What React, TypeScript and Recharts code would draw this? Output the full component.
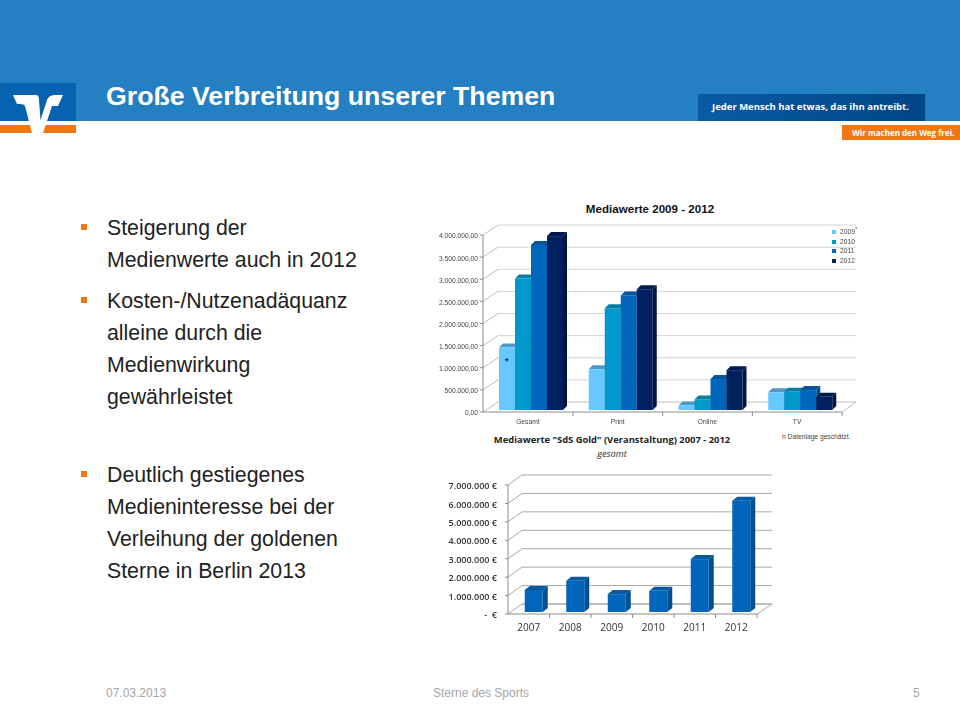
import { BarChart, Bar, XAxis, YAxis, CartesianGrid, Legend } from 'recharts'

const topCategories = ['Gesamt', 'Print', 'Online', 'TV']
const values2009 = [1410000, 920000, 100000, 400000]
const values2010 = [2970000, 2300000, 240000, 410000]
const values2011 = [3730000, 2590000, 700000, 450000]
const values2012 = [3930000, 2730000, 900000, 300000]
const topTicks = [0, 500000, 1000000, 1500000, 2000000, 2500000, 3000000, 3500000, 4000000]

const goldYears = ['2007', '2008', '2009', '2010', '2011', '2012']
const goldValues = [1200000, 1700000, 970000, 1150000, 2870000, 6040000]
const goldTicks = [0, 1000000, 2000000, 3000000, 4000000, 5000000, 6000000, 7000000]

const bulletGroups = [
  { top: 212, lines: ['Steigerung der', 'Medienwerte auch in 2012'] },
  { top: 285, lines: ['Kosten-/Nutzenadäquanz', 'alleine durch die', 'Medienwirkung', 'gewährleistet'] },
  { top: 459, lines: ['Deutlich gestiegenes', 'Medieninteresse bei der', 'Verleihung der goldenen', 'Sterne in Berlin 2013'] },
]

const topData = topCategories.map((name, i) => ({
  name,
  y2009: values2009[i],
  y2010: values2010[i],
  y2011: values2011[i],
  y2012: values2012[i],
}))
const goldData = goldYears.map((name, i) => ({ name, value: goldValues[i] }))

const BLUE = '#2480c2'
const ORANGE = '#f07814'
const ARIAL = '"Liberation Sans", Arial, sans-serif'
const CALIBRI = '"Open Sans", "Noto Sans", sans-serif'

const de = (v: number) => String(v).replace(/\B(?=(\d{3})+$)/g, '.')

// fake the 3D look of the Excel charts: front face comes from the scale, top and side are offset
function bar3d(dx: number, dy: number, dw: number, dh: number, top: string, side: string) {
  return (props: any) => {
    const { x, y, width, height, fill } = props
    const l = x + dx
    const r = l + width
    const t = y + dy
    const b = t + height
    return (
      <g>
        <polygon points={`${l},${t} ${l + dw},${t - dh} ${r + dw},${t - dh} ${r},${t}`} fill={top} />
        <polygon points={`${r},${t} ${r + dw},${t - dh} ${r + dw},${b - dh} ${r},${b}`} fill={side} />
        <rect x={l} y={t} width={width} height={height} fill={fill} />
      </g>
    )
  }
}

// grid line that runs along the back wall, with the slanted bit at the left
function wallLine(dx: number, dy: number, extra: number, color: string, slant: string) {
  return (props: any) => {
    const { x1, y1, x2, y, height } = props
    const isFloor = Math.abs(y1 - (y + height)) < 1
    return (
      <g key={`wall-${y1}`} fill="none">
        <line x1={x1} y1={y1} x2={x1 + dx} y2={y1 - dy} stroke={slant} />
        <line x1={x1 + dx} y1={y1 - dy} x2={x2 + extra} y2={y1 - dy} stroke={color} strokeWidth={isFloor ? 1.5 : 1} />
        {isFloor && <line x1={x2} y1={y1} x2={x2 + extra} y2={y1 - dy} stroke={slant} />}
      </g>
    )
  }
}

function bandTick(halfBand: number, fontSize: number, font: string, color: string, dy: number, mark: string) {
  return (props: any) => {
    const { x, y, payload } = props
    return (
      <g>
        <line x1={x + halfBand} y1={y - 8} x2={x + halfBand} y2={y - 4} stroke={mark} />
        <text x={x} y={y + dy} textAnchor="middle" fontSize={fontSize} fontFamily={font} fill={color}>
          {payload.value}
        </text>
      </g>
    )
  }
}

function Logo() {
  return (
    <svg width={80} height={60} style={{ position: 'absolute', left: 0, top: 78 }} viewBox="0 78 80 60">
      <rect x={0} y={83} width={76} height={38} fill="#0763b0" />
      <rect x={0} y={121} width={76} height={4} fill="#ffffff" />
      <rect x={0} y={125} width={76} height={8} fill={ORANGE} />
      <path
        d="M13 95 L36 95 Q39 95 39 100 L40.5 120 L47 100 Q49 95 55 95 L63 95 L58 106 L52 106 L43 133 L32 133 L25 106 Q24 104 20 104 L17 104 Z"
        fill="#ffffff"
      />
    </svg>
  )
}

function TextAt({ style, children }: any) {
  return <div style={{ position: 'absolute', whiteSpace: 'nowrap', ...style }}>{children}</div>
}

export default function App() {
  return (
    <div style={{ position: 'absolute', left: 0, top: 0, width: 960, height: 720, background: '#fff', overflow: 'hidden' }}>
      <div style={{ position: 'absolute', left: 0, top: 0, width: 960, height: 121, background: BLUE }} />
      <Logo />
      <TextAt style={{ left: 106, top: 81, fontFamily: ARIAL, fontWeight: 700, fontSize: 26.7, lineHeight: '30px', color: '#fff' }}>
        Große Verbreitung unserer Themen
      </TextAt>
      <div style={{ position: 'absolute', left: 698, top: 94, width: 227, height: 27, background: 'linear-gradient(90deg, #0a5ba6, #004586)' }} />
      <TextAt style={{ left: 712, top: 99, fontFamily: CALIBRI, fontWeight: 700, fontSize: 9.5, lineHeight: '15px', color: '#fff' }}>
        Jeder Mensch hat etwas, das ihn antreibt.
      </TextAt>
      <div style={{ position: 'absolute', left: 842, top: 125, width: 118, height: 15, background: ORANGE }} />
      <TextAt style={{ left: 852, top: 125, fontFamily: CALIBRI, fontWeight: 700, fontSize: 8, lineHeight: '15px', color: '#fff' }}>
        Wir machen den Weg frei.
      </TextAt>

      {bulletGroups.map(g => (
        <div key={g.top}>
          <div style={{ position: 'absolute', left: 81, top: g.top + 12, width: 5.5, height: 6, background: ORANGE }} />
          {g.lines.map((line, i) => (
            <TextAt key={line} style={{ left: 107, top: g.top + i * 32, fontFamily: ARIAL, fontSize: 21.3, lineHeight: '32px', color: '#222' }}>
              {line}
            </TextAt>
          ))}
        </div>
      ))}

      <TextAt style={{ left: 550, width: 200, top: 202, textAlign: 'center', fontFamily: ARIAL, fontWeight: 700, fontSize: 11.6, lineHeight: '14px', color: '#111' }}>
        Mediawerte 2009 - 2012
      </TextAt>
      <div style={{ position: 'absolute', left: 425, top: 215, filter: 'blur(0.3px)' }}>
        <BarChart
          width={440}
          height={225}
          data={topData}
          margin={{ top: 20, right: 23, bottom: 10, left: 0 }}
          barCategoryGap={12}
          barGap={0}
        >
          <CartesianGrid vertical={false} horizontal={wallLine(15, 10, 14, '#d4d4d4', '#bcbcbc')} />
          <XAxis
            dataKey="name"
            height={18}
            axisLine={{ stroke: '#8c8c8c' }}
            tickLine={false}
            interval={0}
            tick={bandTick(45, 6.7, ARIAL, '#444', 4, '#8c8c8c')}
          />
          <YAxis
            width={58}
            domain={[0, 4000000]}
            ticks={topTicks}
            interval={0}
            tickFormatter={v => `${de(v)},00`}
            tickSize={3}
            tick={{ fontSize: 6.7, fontFamily: ARIAL, fill: '#444', dy: 1 }}
            axisLine={{ stroke: '#8c8c8c' }}
            tickLine={{ stroke: '#8c8c8c' }}
          />
          {/* align center + middle keeps the legend from eating plot width */}
          <Legend
            layout="vertical"
            align="center"
            verticalAlign="middle"
            iconType="square"
            iconSize={4}
            wrapperStyle={{ left: 407, top: 12, width: 40, fontSize: 6.7, fontFamily: ARIAL, lineHeight: '9.6px' }}
            formatter={(v: string) => (
              <span style={{ color: '#444' }}>
                {v}
                {v === '2009' && <sup style={{ fontSize: 6, lineHeight: 0 }}>*</sup>}
              </span>
            )}
          />
          <Bar dataKey="y2009" name="2009" fill="#66c8ff" isAnimationActive={false} shape={bar3d(4, -2, 4, 4, '#4f97c5', '#3d86b5')} />
          <Bar dataKey="y2010" name="2010" fill="#0099cc" isAnimationActive={false} shape={bar3d(4, -2, 4, 4, '#0a7da3', '#046f94')} />
          <Bar dataKey="y2011" name="2011" fill="#0066bb" isAnimationActive={false} shape={bar3d(4, -2, 4, 4, '#07559a', '#054a88')} />
          <Bar dataKey="y2012" name="2012" fill="#002060" isAnimationActive={false} shape={bar3d(4, -2, 4, 4, '#001a4e', '#001540')} />
        </BarChart>
      </div>
      <TextAt style={{ left: 505, top: 355, fontFamily: ARIAL, fontWeight: 700, fontSize: 9, lineHeight: '12px', color: '#0a2a55' }}>*</TextAt>
      <TextAt style={{ left: 782, top: 432, fontFamily: ARIAL, fontSize: 6.7, lineHeight: '10px', color: '#444' }}>n Datenlage geschätzt.</TextAt>

      <TextAt style={{ left: 462, width: 300, top: 433, textAlign: 'center', fontFamily: CALIBRI, fontWeight: 700, fontSize: 9.4, lineHeight: '14px', color: '#222' }}>
        Mediawerte "SdS Gold" (Veranstaltung) 2007 - 2012
      </TextAt>
      <TextAt style={{ left: 462, width: 300, top: 447, textAlign: 'center', fontFamily: CALIBRI, fontStyle: 'italic', fontSize: 9.2, lineHeight: '14px', color: '#333' }}>
        gesamt
      </TextAt>
      <div style={{ position: 'absolute', left: 445, top: 465, filter: 'blur(0.3px)' }}>
        <BarChart
          width={335}
          height={170}
          data={goldData}
          margin={{ top: 20, right: 23, bottom: 0, left: 0 }}
          barCategoryGap={11.75}
        >
          <CartesianGrid vertical={false} horizontal={wallLine(14, 10, 15, '#a8a8a8', '#a8a8a8')} />
          <XAxis
            dataKey="name"
            height={21}
            axisLine={{ stroke: '#8c8c8c' }}
            tickLine={false}
            interval={0}
            tick={bandTick(20.75, 10, CALIBRI, '#333', 9, '#8c8c8c')}
          />
          <YAxis
            width={63}
            domain={[0, 7000000]}
            ticks={goldTicks}
            interval={0}
            tickFormatter={v => (v === 0 ? '-\u00A0\u00A0€' : `${de(v)}\u00A0€`)}
            tickSize={3}
            tickMargin={8}
            tick={{ fontSize: 9, fontWeight: 600, fontFamily: CALIBRI, fill: '#333', dy: 1 }}
            axisLine={{ stroke: '#8c8c8c' }}
            tickLine={{ stroke: '#8c8c8c' }}
          />
          <Bar dataKey="value" fill="#0066bb" isAnimationActive={false} shape={bar3d(5, -2, 5, 4, '#0a5aa0', '#00508f')} />
        </BarChart>
      </div>

      <TextAt style={{ left: 106, top: 686, fontFamily: ARIAL, fontSize: 12, lineHeight: '15px', color: '#a6a6a6' }}>07.03.2013</TextAt>
      <TextAt style={{ left: 431, width: 100, top: 686, textAlign: 'center', fontFamily: ARIAL, fontSize: 12, lineHeight: '15px', color: '#a6a6a6' }}>Sterne des Sports</TextAt>
      <TextAt style={{ left: 913, top: 686, fontFamily: ARIAL, fontSize: 12, lineHeight: '15px', color: '#a6a6a6' }}>5</TextAt>
    </div>
  )
}
